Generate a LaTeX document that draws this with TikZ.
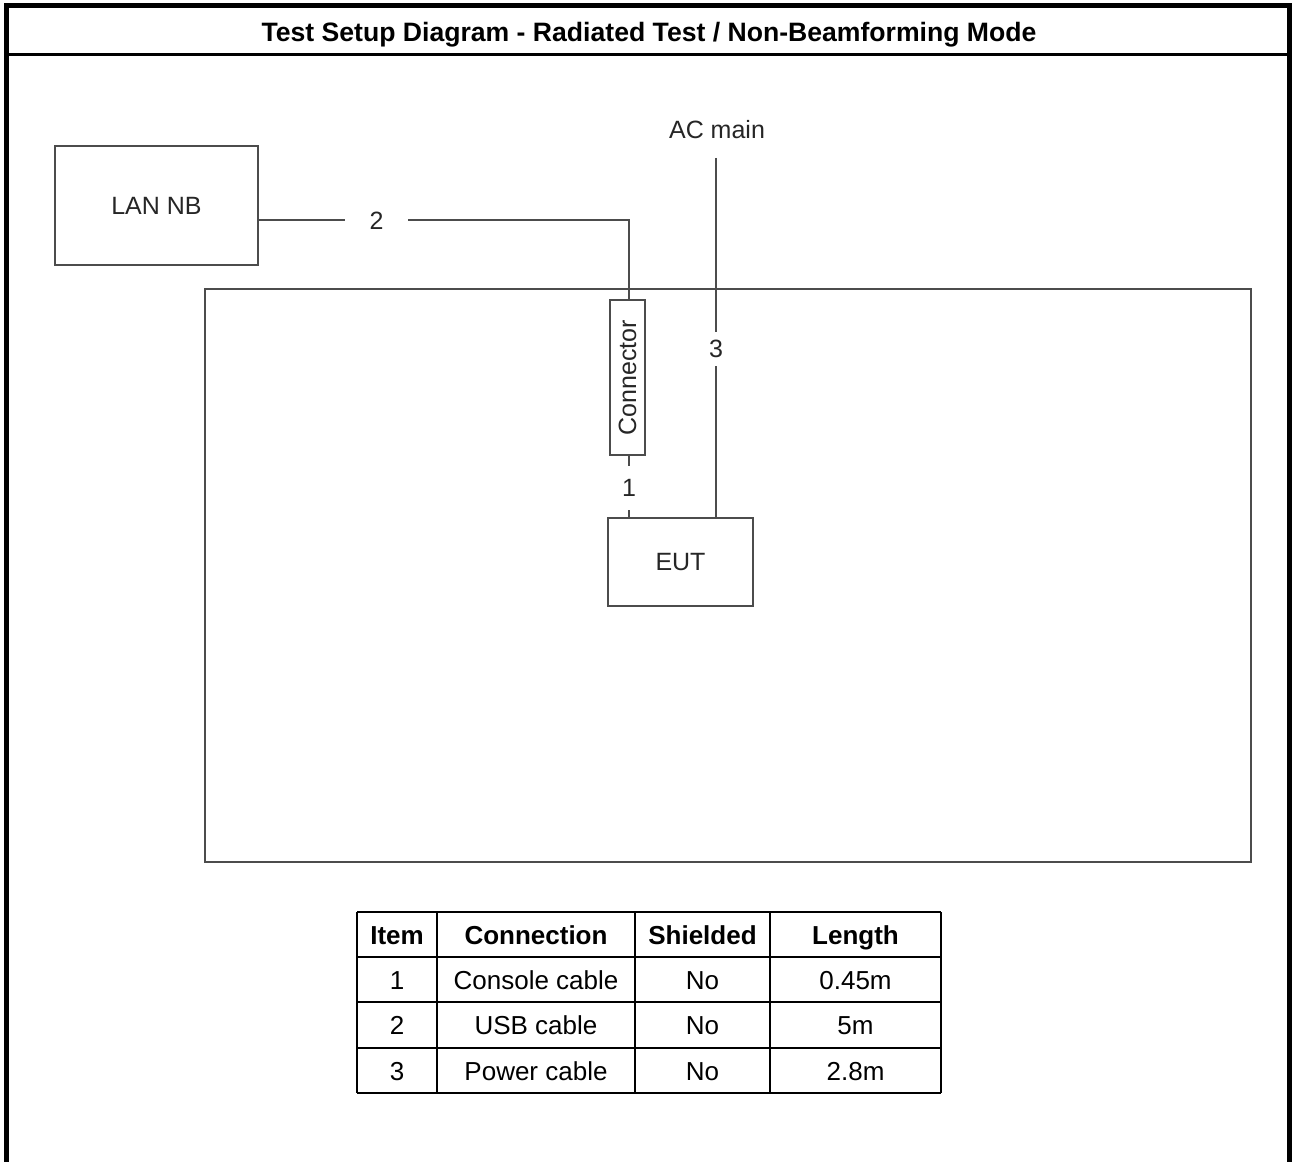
\documentclass[tikz,border=0pt]{standalone}
\usepackage{fontspec}
\setmainfont{Liberation Sans}
\begin{document}
\begin{tikzpicture}[x=1pt,y=-1pt,
  diag/.style={draw=black!70, line width=1.4pt},
  box/.style={draw=black!70, line width=1.4pt, inner sep=0pt, text=black!85, font=\fontsize{25}{30}\selectfont},
  lbl/.style={inner sep=0pt, text=black!85, font=\fontsize{25}{30}\selectfont},
  tline/.style={draw=black, line width=1.8pt},
  capc/.style={text height=#1, text depth=0pt},
  th/.style={inner sep=0pt, capc=18.6pt, font=\bfseries\fontsize{26}{30}\selectfont},
  td/.style={inner sep=0pt, capc=18.6pt, font=\fontsize{26}{30}\selectfont},
  frame/.style={draw=black, line width=5pt}
]
\useasboundingbox (0,0) rectangle (1292,1161);
\fill[white] (0,0) rectangle (1292,1161);
% outer frame
\draw[frame] (6,1170) -- (6,6) -- (1289.5,6) -- (1289.5,1170);
\draw[draw=black, line width=3pt] (6,54.5) -- (1289.5,54.5);
\node[inner sep=0pt, capc=19pt, font=\bfseries\fontsize{26.6}{30}\selectfont] (title) at (649,32) {Test Setup Diagram - Radiated Test / Non-Beamforming Mode};

% big area box
\node[box, minimum width=1046, minimum height=573] (area) at (728,575.5) {};
% LAN NB
\node[box, minimum width=203, minimum height=119] (lan) at (156.5,205.5) {LAN NB};
% connector
\node[box, minimum width=35, minimum height=155] (conn) at (627.5,377.5) {\rotatebox{90}{Connector}};
% EUT
\node[box, minimum width=145, minimum height=88] (eut) at (680.5,562) {EUT};
% AC main
\node[lbl] (ac) at (717,130) {AC main};
\coordinate (acb) at (716,158);

% cable labels
\node[lbl, capc=17.9pt, minimum width=63, minimum height=20] (l2) at (376.5,220.5) {2};
\node[lbl, capc=17.9pt, minimum width=20, minimum height=44] (l1) at (629,488) {1};
\node[lbl, capc=17.9pt, minimum width=20, minimum height=34] (l3) at (716,349) {3};
\coordinate (c2) at (629,220);

\draw[diag] (lan.east |- c2) -- (l2.west |- c2);
\draw[diag] (l2.east |- c2) -- (c2) -- (conn.north -| c2);
\draw[diag] (conn.south -| l1) -- (l1.north);
\draw[diag] (l1.south) -- (eut.north -| l1);
\draw[diag] (acb) -- (l3.north);
\draw[diag] (l3.south) -- (eut.north -| l3);

% table
\foreach \y in {912,957,1002,1048,1093} \draw[tline] (357,\y) -- (941,\y);
\foreach \x in {357,437,635,770,941} \draw[tline] (\x,912) -- (\x,1093);
\node[th] (h1) at (397,935) {Item};
\node[th] (h2) at (536,935) {Connection};
\node[th] (h3) at (702.5,935) {Shielded};
\node[th] (h4) at (855.5,935) {Length};
\node[td] (r11) at (397,980) {1};
\node[td] (r12) at (536,980) {Console cable};
\node[td] (r13) at (702.5,980) {No};
\node[td] (r14) at (855.5,980) {0.45m};
\node[td] (r21) at (397,1025) {2};
\node[td] (r22) at (536,1025) {USB cable};
\node[td] (r23) at (702.5,1025) {No};
\node[td] (r24) at (855.5,1025) {5m};
\node[td] (r31) at (397,1071) {3};
\node[td] (r32) at (536,1071) {Power cable};
\node[td] (r33) at (702.5,1071) {No};
\node[td] (r34) at (855.5,1071) {2.8m};
\end{tikzpicture}
\end{document}
